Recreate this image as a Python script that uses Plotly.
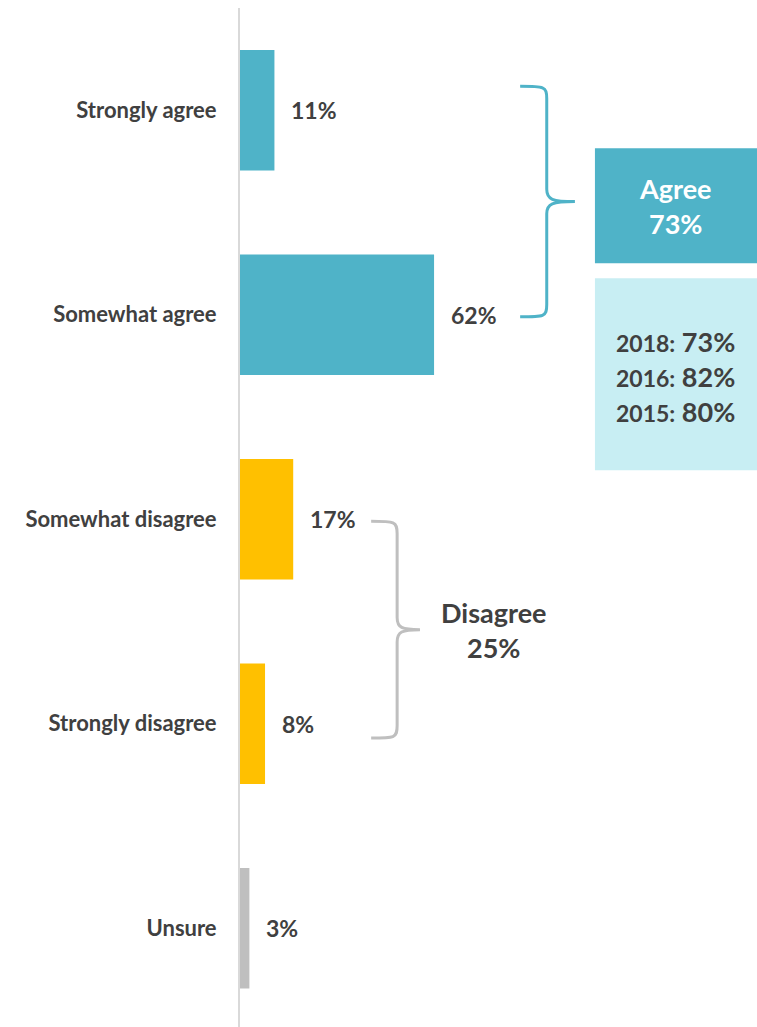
import plotly.graph_objects as go

# Survey responses
categories = ["Strongly agree", "Somewhat agree", "Somewhat disagree", "Strongly disagree", "Unsure"]
values = [11, 62, 17, 8, 3]
bar_colors = ["#4FB3C8", "#4FB3C8", "#FFC000", "#FFC000", "#BFBFBF"]

agree_total = 73
disagree_total = 25
trend_years = ["2018", "2016", "2015"]
trend_values = [73, 82, 80]

FONT = "Lato"
DARK = "#404040"
TEAL = "#4FB3C8"
LIGHT = "#C8EEF3"
GRAY_BRACE = "#BFBFBF"

W, H = 757, 1027
ML, MT = 240, 8
X_MAX = (W - ML) / 3.13           # % per plot width
CAT_PX = 204.5                    # pixels per category row
Y_SPAN = (H - MT) / CAT_PX

ypos = list(range(len(categories)))

fig = go.Figure(go.Bar(
    x=values, y=ypos, orientation="h",
    marker=dict(color=bar_colors, line=dict(width=0)),
    width=0.59, hoverinfo="skip",
))

# value labels to the right of each bar
for v, yi in zip(values, ypos):
    fig.add_annotation(x=v, y=yi, text=f"<b>{v}%</b>", showarrow=False,
                       xanchor="left", xshift=15,
                       font=dict(family=FONT, size=23, color=DARK))


def brace(x0, xv, xt, ytop, ybot, color):
    """Right-facing curly brace from ytop to ybot, tip at xt."""
    ym = (ytop + ybot) / 2
    r = 0.06
    k = (xv - x0)
    p = (f"M {x0},{ytop} C {xv - k*0.1},{ytop} {xv},{ytop} {xv},{ytop + r} "
         f"L {xv},{ym - r} C {xv},{ym - 0.01} {xv + (xt - xv)*0.2},{ym} {xt},{ym} "
         f"M {xt},{ym} C {xv + (xt - xv)*0.2},{ym} {xv},{ym + 0.01} {xv},{ym + r} "
         f"L {xv},{ybot - r} C {xv},{ybot} {xv - k*0.1},{ybot} {x0},{ybot}")
    fig.add_shape(type="path", path=p, xref="x", yref="y",
                  line=dict(color=color, width=3))


# agree / disagree braces
brace(89.5, 98.0, 107.0, -0.117, 1.01, TEAL)
brace(41.9, 50.2, 57.5, 2.01, 3.07, GRAY_BRACE)

# summary boxes
BOX_X0 = 113.4
fig.add_shape(type="rect", xref="x", yref="y", x0=BOX_X0, x1=X_MAX + 1,
              y0=0.186, y1=0.748, fillcolor=TEAL, line=dict(width=0), layer="below")
fig.add_shape(type="rect", xref="x", yref="y", x0=BOX_X0, x1=X_MAX + 1,
              y0=0.822, y1=1.76, fillcolor=LIGHT, line=dict(width=0), layer="below")

fig.add_annotation(x=(BOX_X0 + X_MAX) / 2, y=0.467, xref="x", yref="y",
                   text=f"<b>Agree<br>{agree_total}%</b>", showarrow=False,
                   font=dict(family=FONT, size=27, color="white"))

trend_txt = "<br>".join(
    f"<b><span style='font-size:23px'>{yr}:</span> {v}%</b>"
    for yr, v in zip(trend_years, trend_values))
fig.add_annotation(x=(BOX_X0 + X_MAX) / 2, y=1.30, xref="x", yref="y",
                   text=trend_txt, showarrow=False, align="center",
                   font=dict(family=FONT, size=27, color=DARK))

fig.add_annotation(x=81.1, y=2.54, xref="x", yref="y",
                   text=f"<b>Disagree<br>{disagree_total}%</b>", showarrow=False,
                   font=dict(family=FONT, size=27, color=DARK))

fig.update_layout(
    width=W, height=H,
    margin=dict(l=ML, r=0, t=MT, b=0),
    paper_bgcolor="white", plot_bgcolor="white",
    showlegend=False,
    xaxis=dict(range=[0, X_MAX], visible=False, fixedrange=True),
    yaxis=dict(range=[Y_SPAN - 0.5, -0.5], tickvals=ypos,
               ticktext=[f"<b>{c}</b>" for c in categories],
               showline=True, linecolor="#D9D9D9", linewidth=2,
               showgrid=False, zeroline=False, ticks="",
               ticklabelstandoff=17,
               tickfont=dict(family=FONT, size=22, color=DARK)),
)

fig.write_html("out.html")
